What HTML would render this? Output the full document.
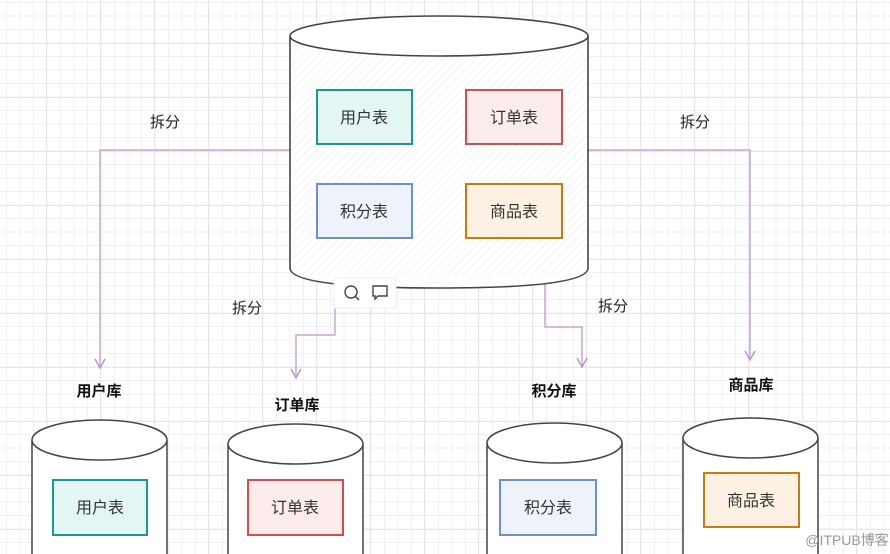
<!DOCTYPE html>
<html><head><meta charset="utf-8"><style>
html,body{margin:0;padding:0;}
body{width:890px;height:554px;overflow:hidden;background:#fff;
background-image:linear-gradient(#e6e6e6 1px,transparent 1px),linear-gradient(90deg,#e6e6e6 1px,transparent 1px),linear-gradient(#f0f0f0 1px,transparent 1px),linear-gradient(90deg,#f0f0f0 1px,transparent 1px);
background-size:54px 54px,54px 54px,13.5px 13.5px,13.5px 13.5px;background-position:0 43px,46px 0,0 2px,6px 0;}
svg{position:absolute;left:0;top:0;}
text{font-family:"Liberation Sans","Noto Sans CJK SC",sans-serif;}
</style></head><body>
<svg width="890" height="554" viewBox="0 0 890 554" xmlns="http://www.w3.org/2000/svg">
<defs>
<pattern id="h" width="6" height="6" patternUnits="userSpaceOnUse" patternTransform="rotate(45)"><line x1="0" y1="0" x2="0" y2="6" stroke="#000" stroke-width="1" opacity="0.08"/></pattern>
</defs>
<g fill="none" stroke="#c9a6d6" stroke-width="1.5">
<polyline points="290,150 100,150 100,366"/>
<polyline points="588,150 750,150 750,358"/>
<polyline points="335,285 335,335 296,335 296,376"/>
<polyline points="545,283 545,327 582,327 582,365"/>
</g>
<g fill="none" stroke="#b896c8" stroke-width="1.5">
<polyline points="95,359 100,368 105,359"/>
<polyline points="745,351 750,360 755,351"/>
<polyline points="291,369 296,378 301,369"/>
<polyline points="577,358 582,367 587,358"/>
</g>
<g font-size="15" fill="#222">
<text x="150" y="127">拆分</text>
<text x="680" y="127">拆分</text>
<text x="232" y="313">拆分</text>
<text x="598" y="311">拆分</text>
</g>
<g stroke="#444" stroke-width="1.6" fill="none">
<path d="M290,36 L290,268 Q290,288 439,288 Q588,288 588,268 L588,36" fill="#fff"/>
<rect x="290" y="36" width="298" height="240" fill="url(#h)" stroke="none"/>
<ellipse cx="439" cy="36" rx="149" ry="20" fill="#fff"/>
</g>
<g stroke-width="2">
<rect x="317" y="90" width="95" height="54" fill="#e4f6f4" stroke="#1a9a8e"/>
<rect x="466" y="90" width="96" height="54" fill="#fdecec" stroke="#d24d4d"/>
<rect x="317" y="184" width="95" height="54" fill="#eef3fb" stroke="#6d8fcf"/>
<rect x="466" y="184" width="96" height="54" fill="#fdf1e4" stroke="#cc7a10"/>
</g>
<g font-size="16" fill="#333" text-anchor="middle">
<text x="364" y="123">用户表</text>
<text x="514" y="123">订单表</text>
<text x="364" y="217">积分表</text>
<text x="514" y="217">商品表</text>
</g>
<rect x="334" y="278" width="62" height="30" fill="#fff" stroke="#eee"/>
<circle cx="351" cy="292" r="6" fill="none" stroke="#444" stroke-width="1.4"/>
<line x1="355" y1="296" x2="359" y2="300" stroke="#444" stroke-width="1.4"/>
<path d="M373,286 h14 v10 h-9 l-3,3 v-3 h-2 z" fill="none" stroke="#444" stroke-width="1.4"/>
<g stroke="#444" stroke-width="1.5">
<path d="M32,440 V560 H167 V440" fill="#fff"/>
<ellipse cx="99.5" cy="440" rx="67.5" ry="20" fill="#fff"/>
<path d="M228,444 V560 H363 V444" fill="#fff"/>
<ellipse cx="295.5" cy="444" rx="67.5" ry="20" fill="#fff"/>
<path d="M487,443 V560 H622 V443" fill="#fff"/>
<ellipse cx="554.5" cy="443" rx="67.5" ry="20" fill="#fff"/>
<path d="M683,438 V560 H818 V438" fill="#fff"/>
<ellipse cx="750.5" cy="438" rx="67.5" ry="20" fill="#fff"/>
</g>
<g stroke-width="2">
<rect x="53" y="480" width="94" height="55" fill="#e4f6f4" stroke="#1a9a8e"/>
<rect x="248" y="480" width="95" height="55" fill="#fdecec" stroke="#d24d4d"/>
<rect x="500" y="480" width="96" height="55" fill="#eef3fb" stroke="#6d8fcf"/>
<rect x="704" y="473" width="95" height="54" fill="#fdf1e4" stroke="#cc7a10"/>
</g>
<g font-size="16" fill="#333" text-anchor="middle">
<text x="100" y="513">用户表</text>
<text x="295" y="513">订单表</text>
<text x="548" y="513">积分表</text>
<text x="751" y="506">商品表</text>
</g>
<g font-size="15" font-weight="bold" fill="#111" text-anchor="middle">
<text x="99" y="396">用户库</text>
<text x="297" y="410">订单库</text>
<text x="554" y="396">积分库</text>
<text x="751" y="390">商品库</text>
</g>
<text x="847" y="545" font-size="14" fill="#999" text-anchor="middle">@ITPUB博客</text>
</svg>
</body></html>
